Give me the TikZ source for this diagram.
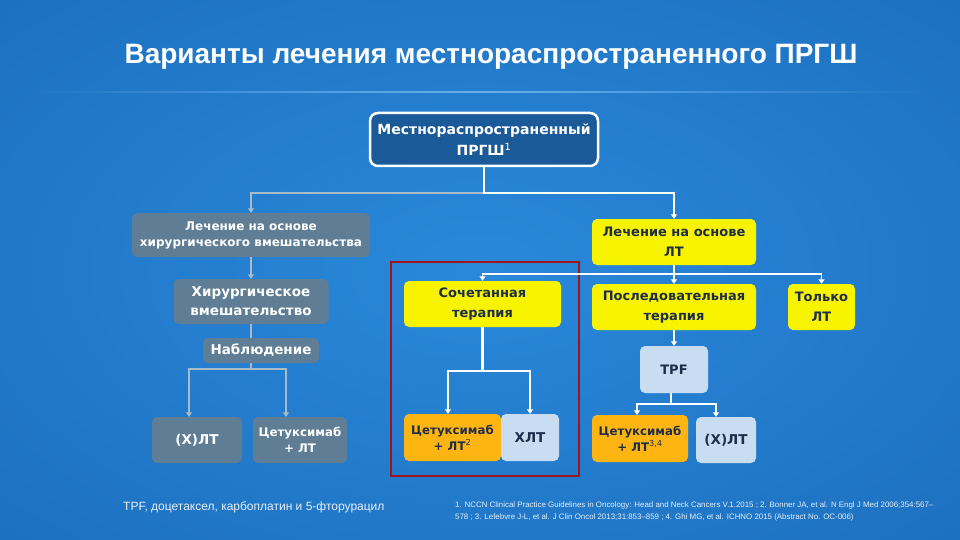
\documentclass[tikz,border=0pt]{standalone}
\usepackage{fontspec}
\setmainfont{Liberation Sans}
\newfontfamily\boxfont{DejaVu Sans}
\usetikzlibrary{arrows.meta,fadings}
\definecolor{bgin}{HTML}{2A88DA}
\definecolor{bgmid}{HTML}{1F74C4}
\definecolor{bgout}{HTML}{175BA3}
\definecolor{linec}{HTML}{7CBDF2}
\definecolor{greyc}{HTML}{5F7E95}
\definecolor{greyline}{HTML}{A9BBCB}
\definecolor{yel}{HTML}{F8F400}
\definecolor{navy}{HTML}{1E2D4A}
\definecolor{orangec}{HTML}{FFB511}
\definecolor{lightbl}{HTML}{C8DDF2}
\definecolor{topc}{HTML}{1B5A99}
\definecolor{redc}{HTML}{A0141E}
\definecolor{footc}{HTML}{E6EEF6}
\pgfdeclareradialshading{bgshade}{\pgfpoint{0bp}{0bp}}{color(0bp)=(bgin); color(30bp)=(bgmid); color(71bp)=(bgout)}
\tikzfading[name=fadeends, left color=transparent!100, right color=transparent!100, middle color=transparent!20]
\begin{document}
\begin{tikzpicture}[x=1pt,y=-1pt,
  box/.style={rounded corners=5pt, inner sep=2pt, align=center, font=\boxfont\bfseries},
  greybox/.style={box, fill=greyc, text=white},
  yelbox/.style={box, fill=yel, text=navy},
  orbox/.style={box, fill=orangec, text=navy},
  ltbox/.style={box, fill=lightbl, text=navy},
  topbox/.style={box, fill=topc, draw=white, line width=2.5pt, text=white, rounded corners=8pt},
  tip/.style={-{Triangle[width=6pt,length=4.5pt]}},
  wline/.style={draw=white, line width=1.5pt},
  wthick/.style={draw=white, line width=2.6pt},
  gline/.style={draw=greyline, line width=1.5pt}]
\shade[shading=bgshade] (0,0) rectangle (960,540);
\useasboundingbox (0,0) rectangle (960,540);
\fill[linec, path fading=fadeends] (30,91) rectangle (930,93);

\node[font=\bfseries\fontsize{28}{32}\selectfont, text=white] (title) at (491,57) {Варианты лечения местнораспространенного ПРГШ};

% top
\node[topbox, minimum width=228pt, minimum height=53pt, font=\boxfont\bfseries\fontsize{14}{21}\selectfont] (top) at (484,139.5) {Местнораспространенный\\ПРГШ\textsuperscript{\mdseries 1}};

% surgery branch
\node[greybox, minimum width=238pt, minimum height=44pt, font=\boxfont\bfseries\fontsize{12}{16}\selectfont] (surgbase) at (251,235) {Лечение на основе\\хирургического вмешательства};
\node[greybox, minimum width=155pt, minimum height=45pt, font=\boxfont\bfseries\fontsize{13.5}{19}\selectfont] (surg) at (251,301.5) {Хирургическое\\вмешательство};
\node[greybox, minimum width=116pt, minimum height=25pt, font=\boxfont\bfseries\fontsize{13.5}{16}\selectfont] (obs) at (261,350.5) {Наблюдение};
\node[greybox, minimum width=90pt, minimum height=46pt, font=\boxfont\bfseries\fontsize{13.5}{16}\selectfont] (xlt1) at (197,440) {(Х)ЛТ};
\node[greybox, minimum width=94pt, minimum height=46pt, font=\boxfont\bfseries\fontsize{11.8}{16}\selectfont] (cet1) at (300,440) {Цетуксимаб\\+ ЛТ};

% RT branch
\node[yelbox, minimum width=164pt, minimum height=46pt, font=\boxfont\bfseries\fontsize{13}{20}\selectfont] (rtbase) at (674,242) {Лечение на основе\\ЛТ};
\node[yelbox, minimum width=157pt, minimum height=46pt, font=\boxfont\bfseries\fontsize{13}{20}\selectfont] (comb) at (482.5,304) {Сочетанная\\терапия};
\node[yelbox, minimum width=164pt, minimum height=46pt, font=\boxfont\bfseries\fontsize{13}{20}\selectfont] (seq) at (674,307) {Последовательная\\терапия};
\node[yelbox, minimum width=67pt, minimum height=46pt, font=\boxfont\bfseries\fontsize{13}{20}\selectfont] (only) at (821.5,307) {Только\\ЛТ};

\node[orbox, minimum width=97pt, minimum height=47pt, font=\boxfont\bfseries\fontsize{11.8}{16}\selectfont] (cet2) at (452.5,437.5) {Цетуксимаб\\+ ЛТ\textsuperscript{\mdseries 2}};
\node[ltbox, minimum width=58pt, minimum height=47pt, font=\boxfont\bfseries\fontsize{13.5}{16}\selectfont] (hlt) at (530,437.5) {ХЛТ};
\node[ltbox, minimum width=68pt, minimum height=47pt, font=\boxfont\bfseries\fontsize{13}{16}\selectfont] (tpf) at (674,369.5) {TPF};
\node[orbox, minimum width=96pt, minimum height=47pt, font=\boxfont\bfseries\fontsize{11.8}{16}\selectfont] (cet3) at (640,438.5) {Цетуксимаб\\+ ЛТ\textsuperscript{\mdseries 3,4}};
\node[ltbox, minimum width=60pt, minimum height=46pt, font=\boxfont\bfseries\fontsize{13.5}{16}\selectfont] (xlt2) at (726,440) {(Х)ЛТ};

% highlight frame
\node[draw=redc, line width=2pt, minimum width=188pt, minimum height=214pt, inner sep=0pt] (hl) at (485,369) {};

% connectors
\coordinate (h0) at (0,193);
\coordinate (h1) at (0,369);
\coordinate (h2) at (0,274);
\coordinate (h3) at (0,371);
\coordinate (h4) at (0,404);

\draw[gline, tip] (top.south |- h0) -| (surgbase.north);
\draw[wline, tip] (top.south) -- (top.south |- h0) -| (rtbase.north);
\draw[gline, tip] (surgbase.south) -- (surg.north);
\draw[gline] (surg.south) -- (surg.south |- obs.north);
\draw[gline] (surg.south |- obs.south) -- (surg.south |- h1);
\draw[gline, tip] (surg.south |- h1) -| ([xshift=-8pt]xlt1.north);
\draw[gline, tip] (surg.south |- h1) -| ([xshift=-14pt]cet1.north);

\draw[wline] (rtbase.south) -- (rtbase.south |- h2);
\draw[wline, tip] (rtbase.south |- h2) -| (comb.north);
\draw[wline, tip] (rtbase.south) -- (seq.north);
\draw[wline, tip] (rtbase.south |- h2) -| (only.north);

\draw[wthick] (comb.south) -- (comb.south |- h3);
\draw[wthick, tip] (comb.south |- h3) -| ([xshift=-4.5pt]cet2.north);
\draw[wthick, tip] (comb.south |- h3) -| (hlt.north);

\draw[wline, tip] (seq.south) -- (tpf.north);
\draw[wline] ([xshift=-3pt]tpf.south) -- ([xshift=-3pt]tpf.south |- h4);
\draw[wline, tip] ([xshift=-3pt]tpf.south |- h4) -| ([xshift=-3pt]cet3.north);
\draw[wline, tip] ([xshift=-3pt]tpf.south |- h4) -| ([xshift=-10pt]xlt2.north);

% footnotes
\node[anchor=base west, inner sep=0pt, text=footc, font=\fontsize{12}{14}\selectfont] (fn1) at (123,510) {TPF, доцетаксел, карбоплатин и 5-фторурацил};
\node[anchor=base west, inner sep=0pt, align=left, text=footc, font=\fontsize{7.9}{12}\selectfont] (refs) at (455,519) {1. NCCN Clinical Practice Guidelines in Oncology: Head and Neck Cancers V.1.2015 ; 2. Bonner JA, et al. N Engl J Med 2006;354:567–\\578 ; 3. Lefebvre J-L, et al. J Clin Oncol 2013;31:853–859 ; 4. Ghi MG, et al. ICHNO 2015 (Abstract No. OC-006)};
\end{tikzpicture}
\end{document}
